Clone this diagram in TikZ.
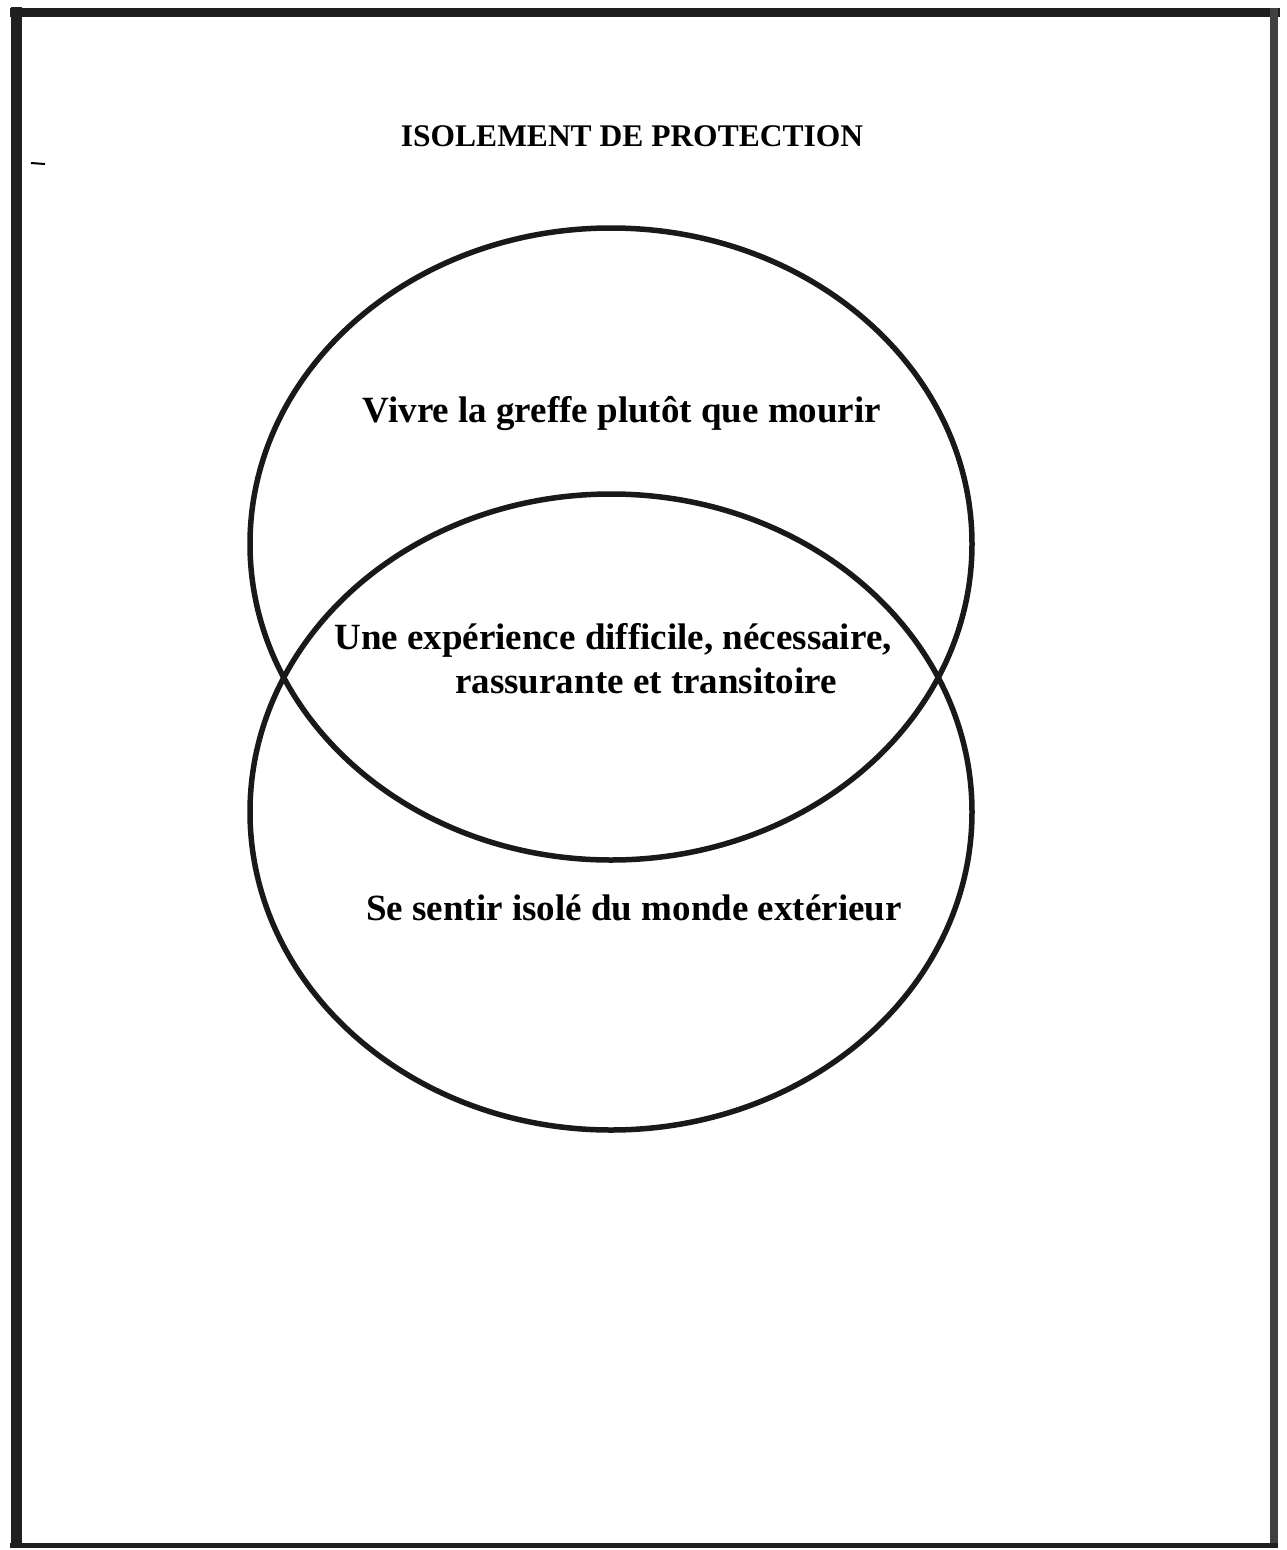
\documentclass[tikz,border=0pt]{standalone}
\usepackage{fontspec}
\setmainfont{Liberation Serif}
\begin{document}
\begin{tikzpicture}[x=1pt,y=-1pt,
  lbl/.style={font=\bfseries\fontsize{37}{42}\selectfont, inner sep=0pt, anchor=base},
  ring/.style={draw=black!90, line width=5.5pt},
  frame/.style={draw=black!88}]
\useasboundingbox (0,0) rectangle (1286,1550);
% frame
\draw[frame, line width=11pt] (16,7) -- (16,1548);
\draw[frame, line width=9pt] (10,12) -- (1280,12);
\draw[frame, line width=8pt, draw=black!75] (1274,8) -- (1274,1548);
\draw[frame, line width=5pt] (10,1545) -- (1278,1545);
\draw[line width=2pt] (31,163) -- (45,164);
% ellipses
\draw[ring] (611,544) ellipse [x radius=361, y radius=316];
\draw[ring] (611,812) ellipse [x radius=361, y radius=318];
% texts
\node[lbl, font=\bfseries\fontsize{31.5}{36}\selectfont] (title) at (632,146) {ISOLEMENT DE PROTECTION};
\node[lbl] (top) at (622,422) {Vivre la greffe plutôt que mourir};
\node[lbl] (mid1) at (613,649) {Une expérience difficile, nécessaire,};
\node[lbl] (mid2) at (646,693) {rassurante et transitoire};
\node[lbl] (bot) at (634,920) {Se sentir isolé du monde extérieur};
\end{tikzpicture}
\end{document}
